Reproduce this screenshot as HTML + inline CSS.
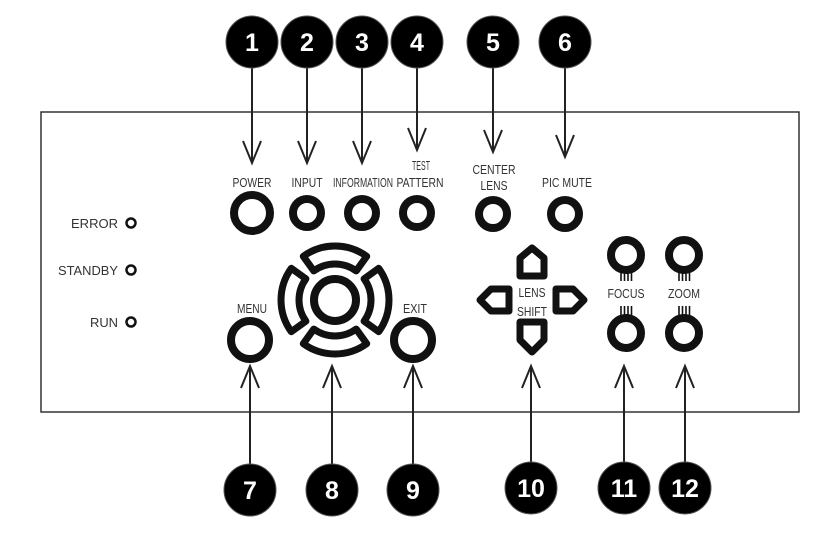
<!DOCTYPE html>
<html><head><meta charset="utf-8"><style>
html,body{margin:0;padding:0;background:#fff;}
svg{display:block;}
.l{font-family:"Liberation Sans",sans-serif;font-size:13px;fill:#333;text-anchor:middle;}
.b{font-family:"Liberation Sans",sans-serif;font-weight:bold;font-size:25px;fill:#fff;text-anchor:middle;}
</style></head><body>
<svg width="840" height="538" viewBox="0 0 840 538" xmlns="http://www.w3.org/2000/svg">
<rect x="41" y="112" width="758" height="300" fill="none" stroke="#333" stroke-width="1.5"/>
<g stroke="#222" stroke-width="2" fill="none">
<path d="M252 60V163M243 141L252 163L261 141"/>
<path d="M307 60V163M298 141L307 163L316 141"/>
<path d="M362 60V163M353 141L362 163L371 141"/>
<path d="M417 60V150M408 128L417 150L426 128"/>
<path d="M493 60V152M484 130L493 152L502 130"/>
<path d="M565 60V157M556 135L565 157L574 135"/>
<path d="M250 466V366M241 388L250 366L259 388"/>
<path d="M332 466V366M323 388L332 366L341 388"/>
<path d="M413 466V366M404 388L413 366L422 388"/>
<path d="M531 466V366M522 388L531 366L540 388"/>
<path d="M624 466V366M615 388L624 366L633 388"/>
<path d="M685 466V366M676 388L685 366L694 388"/>
</g>
<g fill="#000" stroke="#555" stroke-width="1">
<circle cx="252" cy="42" r="26"/><circle cx="307" cy="42" r="26"/><circle cx="362" cy="42" r="26"/><circle cx="417" cy="42" r="26"/>
<circle cx="493" cy="42" r="26"/><circle cx="565" cy="42" r="26"/>
<circle cx="250" cy="490" r="26"/><circle cx="332" cy="490" r="26"/><circle cx="413" cy="490" r="26"/>
<circle cx="531" cy="488" r="26"/><circle cx="624" cy="488" r="26"/><circle cx="685" cy="488" r="26"/>
</g>
<g class="b">
<text x="252" y="51">1</text><text x="307" y="51">2</text><text x="362" y="51">3</text><text x="417" y="51">4</text>
<text x="493" y="51">5</text><text x="565" y="51">6</text>
<text x="250" y="499">7</text><text x="332" y="499">8</text><text x="413" y="499">9</text>
<text x="531" y="497">10</text><text x="624" y="497">11</text><text x="685" y="497">12</text>
</g>
<g class="l" lengthAdjust="spacingAndGlyphs">
<text x="252" y="187" textLength="39" lengthAdjust="spacingAndGlyphs">POWER</text>
<text x="307" y="187" textLength="31" lengthAdjust="spacingAndGlyphs">INPUT</text>
<text x="363" y="187" textLength="60" lengthAdjust="spacingAndGlyphs">INFORMATION</text>
<text x="421" y="170" textLength="18" lengthAdjust="spacingAndGlyphs">TEST</text>
<text x="420" y="187" textLength="47" lengthAdjust="spacingAndGlyphs">PATTERN</text>
<text x="494" y="174" textLength="43" lengthAdjust="spacingAndGlyphs">CENTER</text>
<text x="494" y="190" textLength="27" lengthAdjust="spacingAndGlyphs">LENS</text>
<text x="567" y="187" textLength="50" lengthAdjust="spacingAndGlyphs">PIC MUTE</text>
<text x="252" y="313" textLength="30" lengthAdjust="spacingAndGlyphs">MENU</text>
<text x="415" y="313" textLength="24" lengthAdjust="spacingAndGlyphs">EXIT</text>
<text x="532" y="297" textLength="27" lengthAdjust="spacingAndGlyphs">LENS</text>
<text x="532" y="316" textLength="30" lengthAdjust="spacingAndGlyphs">SHIFT</text>
<text x="626" y="298" textLength="37" lengthAdjust="spacingAndGlyphs">FOCUS</text>
<text x="684" y="298" textLength="32" lengthAdjust="spacingAndGlyphs">ZOOM</text>
<text x="118" y="228" style="text-anchor:end" textLength="47" lengthAdjust="spacingAndGlyphs">ERROR</text>
<text x="118" y="275" style="text-anchor:end" textLength="60" lengthAdjust="spacingAndGlyphs">STANDBY</text>
<text x="118" y="327" style="text-anchor:end" textLength="28" lengthAdjust="spacingAndGlyphs">RUN</text>
</g>
<g fill="none" stroke="#111">
<circle cx="131" cy="223" r="4.5" stroke-width="2.5"/>
<circle cx="131" cy="270" r="4.5" stroke-width="2.5"/>
<circle cx="131" cy="322" r="4.5" stroke-width="2.5"/>
<g stroke-width="8">
<circle cx="252" cy="213" r="18"/>
<circle cx="307" cy="213" r="14"/><circle cx="362" cy="213" r="14"/><circle cx="417" cy="213" r="14"/>
<circle cx="493" cy="214" r="14"/><circle cx="565" cy="214" r="14"/>
<circle cx="250" cy="340" r="19"/><circle cx="413" cy="340" r="19"/>
<circle cx="335" cy="300" r="21"/>
<circle cx="626" cy="255" r="15"/><circle cx="626" cy="333" r="15"/>
<circle cx="684" cy="255" r="15"/><circle cx="684" cy="333" r="15"/>
</g>
<g stroke-width="7" stroke-linejoin="round">
<path d="M313.8 270.9A36 36 0 0 1 356.2 270.9L366.7 256.3A54 54 0 0 0 303.3 256.3Z"/>
<path d="M313.8 329.1A36 36 0 0 0 356.2 329.1L366.7 343.7A54 54 0 0 1 303.3 343.7Z"/>
<path d="M305.9 278.8A36 36 0 0 0 305.9 321.2L291.3 331.7A54 54 0 0 1 291.3 268.3Z"/>
<path d="M364.1 278.8A36 36 0 0 1 364.1 321.2L378.7 331.7A54 54 0 0 0 378.7 268.3Z"/>
</g>
<g stroke-width="7" stroke-linejoin="round">
<path d="M520 276V258L532 248L544 258V276Z"/>
<path d="M520 322H544V340L532 352L520 340Z"/>
<path d="M509 289H491L480 300L491 311H509Z"/>
<path d="M556 289H573L584 300L573 311H556Z"/>
</g>
<g stroke-width="1.6">
<path d="M621 270V281M624.5 270V281M628 270V281M631.5 270V281"/>
<path d="M621 306V318M624.5 306V318M628 306V318M631.5 306V318"/>
<path d="M679 270V281M682.5 270V281M686 270V281M689.5 270V281"/>
<path d="M679 306V318M682.5 306V318M686 306V318M689.5 306V318"/>
</g>
</g>
</svg>
</body></html>
